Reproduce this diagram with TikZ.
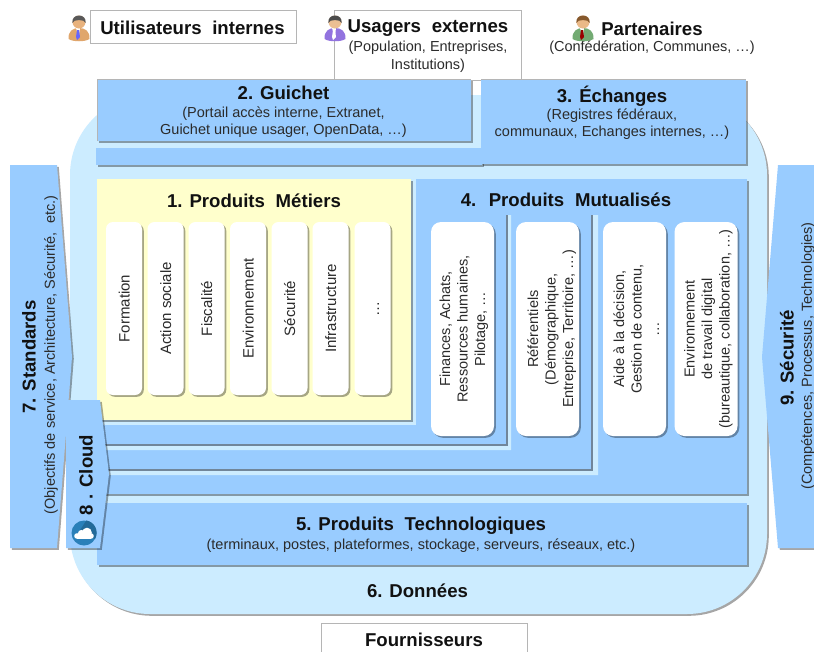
\documentclass[tikz,border=0pt]{standalone}
\usepackage{fontspec}
\setmainfont{Liberation Sans}
\usetikzlibrary{shadows}
\definecolor{cblue}{HTML}{99CCFF}
\definecolor{clight}{HTML}{CCECFF}
\definecolor{cyellow}{HTML}{FFFFCC}
\definecolor{ctext}{HTML}{111111}
\definecolor{csub}{HTML}{2B2B2B}
\definecolor{cedge}{HTML}{B5B5B5}
\definecolor{cdark}{HTML}{71869A}
\definecolor{ccloud}{HTML}{2A80B9}
\definecolor{ccloudd}{HTML}{236A99}
\newcommand{\bigf}{\fontsize{18.6}{22}\selectfont\bfseries}
\newcommand{\subf}{\fontsize{14.5}{17.5}\selectfont}
\newcommand{\cardf}{\fontsize{15}{17.5}\selectfont}
\newcommand{\rot}[2][4]{\hspace*{#1pt}\rotatebox{90}{\begin{tabular}{@{}c@{}}#2\end{tabular}}}
\newcommand{\wsp}{\hspace{0.3em}}
\newcommand{\personicon}[6]{%
  \begin{scope}[shift={(#1,#2)}]
    \fill[#3] (-10.5,11) .. controls (-11,3) and (-6,0) .. (0,0) .. controls (6,0) and (11,3) .. (10.5,11) .. controls (6,14) and (-6,14) .. (-10.5,11) -- cycle;
    \fill[white] (-3,0) -- (1,0) -- (0,7) -- (-1,7) -- cycle;
    \fill[#4] (-2,2) -- (0,2) -- (1,9) -- (-2,12) -- (-3,9) -- cycle;
    \fill[#5] (0,-6) circle (6.5);
    \fill[#6] (-6.6,-5) .. controls (-8,-15) and (8,-15) .. (6.6,-5) .. controls (6,-9) and (-6,-9) .. (-6.6,-5) -- cycle;
  \end{scope}}
\tikzset{
  x=1pt,y=-1pt,
  shad/.style={drop shadow={shadow xshift=1.8pt,shadow yshift=-1.8pt,opacity=.35,fill=black}},
  panel/.style={fill=cblue,shad},
  whitebox/.style={draw=cedge,line width=.8pt,fill=white},
  title/.style={inner sep=0pt,text=ctext,font=\bigf,align=center},
  subtitle/.style={inner sep=0pt,text=csub,font=\subf,align=center},
  card/.style={rectangle,rounded corners=7pt,fill=white,shad,inner sep=0pt,text=csub,font=\cardf,minimum height=#1},
  card/.default=173pt,
  widecard/.style={card=214pt,rounded corners=10pt,minimum width=63pt,font=\subf},
  seam/.style={draw=cdark,line width=1.2pt},
  halo/.style={fill=clight}
}
\begin{document}
\begin{tikzpicture}
\clip (0,0) rectangle (814,651);
\fill[white] (0,0) rectangle (814,651);

% top actors
\node[whitebox,minimum width=206pt,minimum height=33pt,inner sep=0pt] (ui) at (193,26.5) {};
\node[title] (uit) at (192.5,27.5) {Utilisateurs\wsp{} internes};
\personicon{79}{28}{brown!70!orange!70!white}{blue!60!white}{brown!60!orange!60!white}{black!65}
\node[whitebox,minimum width=187pt,minimum height=70pt,inner sep=0pt] (ue) at (427.5,45) {};
\node[title] (uet) at (428,28.5) {Usagers\wsp{} externes};
\node[subtitle] (ues) at (428,56.5) {(Population, Entreprises,\\Institutions)};
\personicon{335}{28}{violet!45!blue!55!white}{white}{orange!40!brown!50!white}{black!70}
\node[title] (pat) at (652,28.5) {Partenaires};
\node[subtitle] (pas) at (652,48) {(Confédération, Communes, …)};
\personicon{583}{28}{green!40!black!55!white}{red!60!black}{orange!40!brown!55!white}{brown!70!black}

% outer data block
\path[fill=clight,rounded corners=80pt,shad] (70,95) rectangle (767,614);
\node[title] (don) at (417.5,591) {6. Données};
\node[whitebox,minimum width=206pt,minimum height=40pt,inner sep=0pt] (fo) at (424,643) {};
\node[title] (fot) at (424,640) {Fournisseurs};

% guichet and exchanges
\path[panel] (96,148) rectangle (482,165);
\path[panel] (97,79) rectangle (471,141);
\path[panel] (481,79) rectangle (746,164);
\draw[cedge,line width=.7pt] (97,141) -- (97,79) -- (471,79);
\draw[cedge,line width=.7pt] (481,79) -- (746,79);
\node[title] (gu) at (283.5,92.5) {2. Guichet};
\node[subtitle] (gus) at (283.5,122) {(Portail accès interne, Extranet,\\Guichet unique usager, OpenData, …)};
\node[title] (ec) at (612,96) {3. Échanges};
\node[subtitle] (ecs) at (612,124) {(Registres fédéraux,\\communaux, Echanges internes, …)};

% shared products, nested
\path[panel] (97,179) rectangle (747,494);
\fill[halo] (593,215) -- (598,215) -- (598,475) -- (97,475) -- (97,470) -- (593,470) -- cycle;
\draw[seam] (592,215) -- (592,470) -- (97,470);
\fill[halo] (508,215) -- (511,215) -- (511,450) -- (97,450) -- (97,446) -- (508,446) -- cycle;
\draw[seam] (507,215) -- (507,445) -- (97,445);
\fill[halo] (97,179) rectangle (416,425);
\path[fill=cyellow,shad] (97,179) rectangle (411,420);
\node[title] (me) at (254,200.5) {1. Produits\wsp{} Métiers};
\node[title] (mu) at (566,199.5) {4.\wsp{} Produits\wsp{} Mutualisés};

% business cards
\node[card,minimum width=36pt] (c1) at (124,308.5) {\rot{Formation}};
\node[card,minimum width=36pt] (c2) at (165.5,308.5) {\rot{Action sociale}};
\node[card,minimum width=36pt] (c3) at (206.5,308.5) {\rot{Fiscalité}};
\node[card,minimum width=36pt] (c4) at (248,308.5) {\rot{Environnement}};
\node[card,minimum width=36pt] (c5) at (289.5,308.5) {\rot{Sécurité}};
\node[card,minimum width=36pt] (c6) at (330.5,308.5) {\rot{Infrastructure}};
\node[card,minimum width=36pt] (c7) at (372.5,308.5) {\rot[6]{…}};

% shared cards
\node[widecard] (d1) at (462.5,329) {\rot[3]{Finances, Achats,\\Ressources humaines,\\Pilotage, …}};
\node[widecard] (d2) at (547.5,329) {\rot[9]{Référentiels\\(Démographique,\\Entreprise, Territoire, …)}};
\node[widecard] (d3) at (634.5,329) {\rot[7]{Aide à la décision,\\Gestion de contenu,\\…}};
\node[widecard] (d4) at (706,329) {\rot[5]{Environnement\\de travail digital\\(bureautique, collaboration, …)}};

% technology
\path[panel] (97,503) rectangle (747,565);
\node[title] (te) at (421,526) {5. Produits\wsp{} Technologiques};
\node[subtitle] (tes) at (421,546) {(terminaux, postes, plateformes, stockage, serveurs, réseaux, etc.)};

% side arrows
\path[panel] (10,165) -- (57,165) -- (72,357) -- (57,548) -- (10,548) -- cycle;
\node[title,rotate=90] (st) at (29,357) {7. Standards};
\node[subtitle,rotate=90] (sts) at (51,355) {(Objectifs de service, Architecture, Sécurité,\wsp{} etc.)};
\path[panel] (66,400) -- (100,400) -- (109,474) -- (100,548) -- (66,548) -- cycle;
\node[title,rotate=90] (cl) at (86,475) {8 . Cloud};
\fill[ccloud] (84,533) circle (12.5);
\fill[ccloudd] (75,538) -- (93,538) -- (95,539) arc (30:-80:12.5) -- cycle;
\fill[white] (77,536) circle (2.8) (81.5,533.5) circle (3.6) (87,532.5) circle (4.8) (91,536) circle (2.8);
\fill[white] (77,534.5) rectangle (91,538.8);
\path[panel] (778,165) -- (762,357) -- (778,548) -- (820,548) -- (820,165) -- cycle;
\node[title,rotate=90] (se) at (787,358) {9. Sécurité};
\node[subtitle,rotate=90] (ses) at (808,356) {(Compétences, Processus, Technologies)};
\end{tikzpicture}
\end{document}
